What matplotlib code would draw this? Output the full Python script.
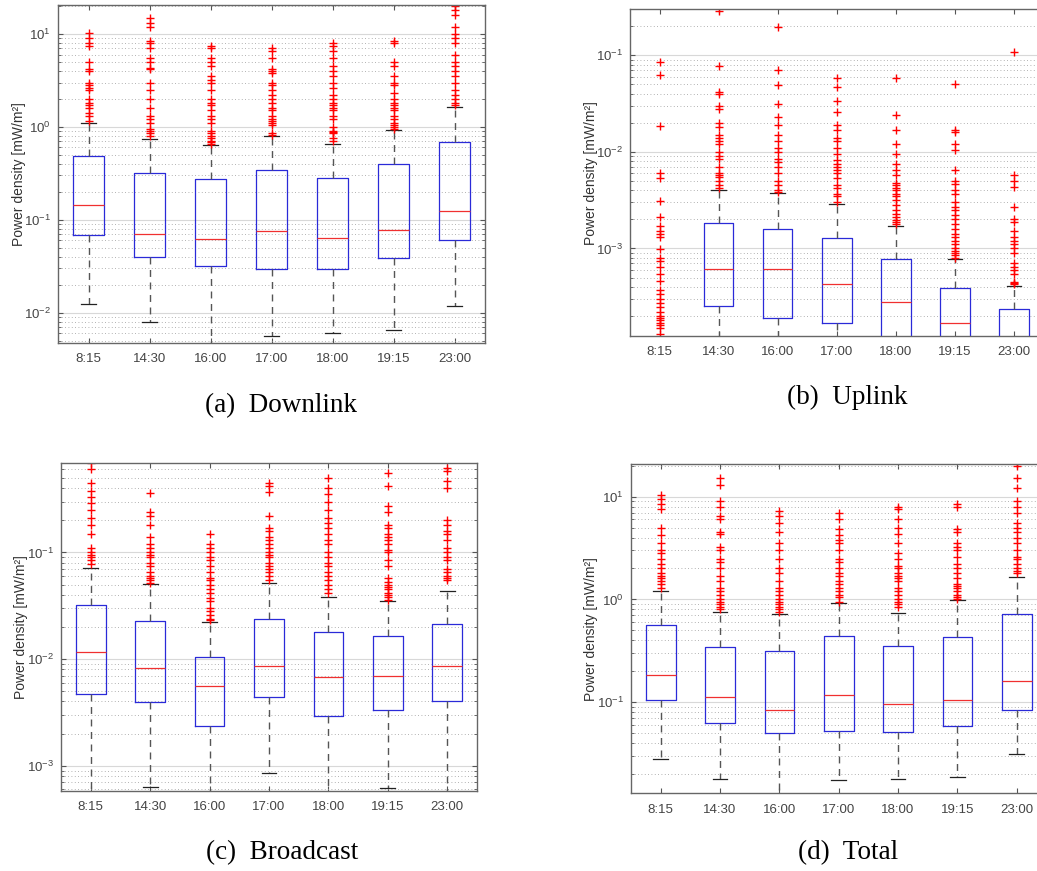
import matplotlib
matplotlib.use("Agg")
import matplotlib.pyplot as plt
from matplotlib.ticker import LogLocator, NullFormatter

plt.rcParams['font.family'] = ['Liberation Sans', 'DejaVu Sans']
plt.rcParams['mathtext.default'] = 'regular'

times = ['8:15', '14:30', '16:00', '17:00', '18:00', '19:15', '23:00']

# --- (a) Downlink ---
dl_q1 = [0.0689, 0.0395, 0.0316, 0.0291, 0.0296, 0.0385, 0.0598]
dl_med = [0.145, 0.0706, 0.0614, 0.0748, 0.0630, 0.0773, 0.124]
dl_q3 = [0.486, 0.319, 0.275, 0.343, 0.284, 0.399, 0.689]
dl_lo = [0.0124, 0.00792, 0.0040, 0.00565, 0.00598, 0.00656, 0.0118]
dl_hi = [1.10, 0.736, 0.644, 0.80, 0.66, 0.929, 1.62]
dl_out = [
    [10.2, 9, 8, 7.5, 5, 4.2, 4, 3, 2.8, 2.6, 2.5, 2, 1.8, 1.7, 1.6, 1.4, 1.3, 1.15],
    [15, 13, 12, 8.5, 8, 7, 5.5, 5, 4.3, 4.2, 3, 2.5, 2, 1.6, 1.3, 1.2, 1.1, 0.95, 0.9, 0.85, 0.8],
    [7.5, 7, 5.5, 5, 4.5, 3.5, 3.2, 3, 2.5, 2, 1.8, 1.7, 1.5, 1.3, 1.2, 1.1, 0.9, 0.85, 0.8, 0.75, 0.7, 0.68, 0.66],
    [7, 6.5, 5.5, 4.2, 4, 3.8, 3, 2.8, 2.5, 2.2, 2, 1.8, 1.6, 1.5, 1.3, 1.2, 1.15, 1.1, 1.05, 0.85, 0.82],
    [8, 7.5, 6.5, 5.5, 4.5, 4, 3.5, 3, 2.6, 2.2, 2, 1.8, 1.7, 1.6, 1.5, 1.3, 1.2, 1, 0.9, 0.88, 0.85, 0.75, 0.7],
    [8.5, 8, 5, 4.5, 3.5, 3, 2.8, 2.3, 2, 1.8, 1.7, 1.6, 1.5, 1.3, 1.2, 1.1, 1.05, 1, 0.95],
    [20, 18, 16, 12, 10, 9, 8, 6, 5, 4.5, 4, 3.5, 3, 2.5, 2.2, 2, 1.8, 1.7],
]

# --- (b) Uplink ---
ul_q1 = [5e-5, 0.000251, 0.00019, 0.000171, 9e-5, 7e-5, 6e-5]
ul_med = [7e-5, 0.00061, 0.00061, 0.00043, 0.00028, 0.000168, 0.00011]
ul_q3 = [1e-4, 0.00183, 0.0016, 0.00127, 0.000787, 0.00039, 0.000237]
ul_lo = [2e-5, 5e-5, 4e-5, 4e-5, 3e-5, 2e-5, 2e-5]
ul_hi = [0.000115, 0.00399, 0.00374, 0.0029, 0.00169, 0.00078, 0.000404]
ul_out = [
    [0.086, 0.062, 0.0187, 0.006, 0.0054, 0.0031, 0.0021, 0.0017, 0.0015, 0.0014, 0.0013, 0.00098,
     0.00079, 0.00075, 0.00065, 0.00054, 0.00046, 0.00037, 0.00034, 0.0003, 0.00027, 0.00025,
     0.00022, 0.0002, 0.00019, 0.00018, 0.00017, 0.00016, 0.00015, 0.00013],
    [0.29, 0.077, 0.042, 0.04, 0.03, 0.028, 0.02, 0.018, 0.015, 0.014, 0.013, 0.012, 0.01, 0.009,
     0.0085, 0.007, 0.006, 0.0058, 0.0055, 0.005, 0.0045, 0.0042],
    [0.197, 0.07, 0.049, 0.031, 0.023, 0.019, 0.015, 0.013, 0.011, 0.01, 0.0085, 0.0078, 0.007,
     0.006, 0.005, 0.0045, 0.004, 0.0038],
    [0.058, 0.047, 0.034, 0.026, 0.019, 0.017, 0.014, 0.013, 0.011, 0.0095, 0.0082, 0.0075, 0.007,
     0.0065, 0.006, 0.0054, 0.0045, 0.0042, 0.0037, 0.0035, 0.003],
    [0.058, 0.024, 0.017, 0.012, 0.0095, 0.0075, 0.0065, 0.0058, 0.0048, 0.0045, 0.0042, 0.004,
     0.0037, 0.0035, 0.0032, 0.0028, 0.0025, 0.0023, 0.0021, 0.00195, 0.0019, 0.0018],
    [0.05, 0.017, 0.016, 0.012, 0.0105, 0.0065, 0.005, 0.0046, 0.004, 0.0037, 0.003, 0.0027, 0.0025,
     0.0022, 0.002, 0.0018, 0.0016, 0.0014, 0.0013, 0.0012, 0.0011, 0.001, 0.00095, 0.0009,
     0.00085, 0.0008],
    [0.108, 0.0058, 0.005, 0.0043, 0.0027, 0.002, 0.0019, 0.0015, 0.0013, 0.0012, 0.0011, 0.001,
     0.0009, 0.0007, 0.00065, 0.0006, 0.00055, 0.00045, 0.00044, 0.00043],
]

# --- (c) Broadcast ---
bc_q1 = [0.0047, 0.00398, 0.00236, 0.00438, 0.00292, 0.00332, 0.00401]
bc_med = [0.01155, 0.00818, 0.00558, 0.0086, 0.00683, 0.00698, 0.00866]
bc_q3 = [0.0321, 0.0227, 0.0105, 0.0237, 0.0178, 0.0164, 0.0211]
bc_lo = [0.0004, 0.000626, 0.0004, 0.00086, 0.0004, 0.000613, 0.0004]
bc_hi = [0.0713, 0.0505, 0.0225, 0.0516, 0.0379, 0.035, 0.0437]
bc_out = [
    [0.69, 0.6, 0.45, 0.38, 0.33, 0.29, 0.25, 0.21, 0.18, 0.15, 0.11, 0.1, 0.095, 0.09, 0.085, 0.078],
    [0.36, 0.24, 0.22, 0.18, 0.14, 0.12, 0.11, 0.1, 0.095, 0.09, 0.08, 0.075, 0.065, 0.06, 0.058,
     0.055, 0.052],
    [0.15, 0.12, 0.11, 0.1, 0.09, 0.085, 0.075, 0.065, 0.058, 0.055, 0.05, 0.045, 0.042, 0.037,
     0.035, 0.03, 0.028, 0.026, 0.024, 0.023],
    [0.45, 0.42, 0.37, 0.22, 0.17, 0.16, 0.14, 0.13, 0.12, 0.11, 0.1, 0.095, 0.09, 0.08, 0.075,
     0.07, 0.065, 0.06, 0.055],
    [0.5, 0.4, 0.35, 0.3, 0.25, 0.21, 0.19, 0.17, 0.15, 0.13, 0.12, 0.1, 0.09, 0.08, 0.075, 0.065,
     0.06, 0.055, 0.05, 0.045, 0.042],
    [0.56, 0.42, 0.27, 0.24, 0.18, 0.17, 0.15, 0.14, 0.13, 0.12, 0.105, 0.1, 0.085, 0.075, 0.057,
     0.053, 0.05, 0.047, 0.045, 0.042, 0.04, 0.038, 0.036],
    [0.62, 0.58, 0.47, 0.4, 0.2, 0.18, 0.16, 0.15, 0.13, 0.11, 0.1, 0.09, 0.085, 0.07, 0.065, 0.06,
     0.058, 0.055],
]

# --- (d) Total ---
tt_q1 = [0.1054, 0.0625, 0.05, 0.0526, 0.0518, 0.0593, 0.084]
tt_med = [0.183, 0.112, 0.084, 0.118, 0.0964, 0.1045, 0.1626]
tt_q3 = [0.565, 0.3475, 0.313, 0.438, 0.356, 0.432, 0.723]
tt_lo = [0.0279, 0.0181, 0.01, 0.0176, 0.0178, 0.0189, 0.0312]
tt_hi = [1.22, 0.75, 0.72, 0.918, 0.734, 0.99, 1.66]
tt_out = [
    [10.3, 9.5, 8.5, 7.5, 5, 4.2, 3.5, 3, 2.8, 2.5, 2.2, 2, 1.8, 1.7, 1.6, 1.5, 1.4, 1.3],
    [15, 13, 9, 8, 6.5, 6, 4.5, 4.3, 3.2, 3, 2.5, 2.3, 2, 1.7, 1.5, 1.3, 1.2, 1.1, 1, 0.95, 0.9,
     0.85, 0.8],
    [7.2, 6.5, 5.5, 4.5, 3.5, 3, 2.5, 2, 1.8, 1.5, 1.3, 1.2, 1.1, 1, 0.95, 0.9, 0.85, 0.8, 0.75],
    [7, 6, 4.8, 4.2, 3.8, 3.5, 3, 2.5, 2.3, 2, 1.8, 1.7, 1.5, 1.4, 1.3, 1.2, 1.1, 1.05, 0.95],
    [8, 7.5, 6, 5, 4.3, 3.5, 2.8, 2.5, 2.1, 2, 1.8, 1.7, 1.6, 1.5, 1.3, 1.2, 1.1, 1, 0.95, 0.9, 0.85],
    [8.5, 8, 4.8, 4.5, 3.5, 3.2, 3, 2.6, 2.2, 2, 1.8, 1.6, 1.4, 1.35, 1.3, 1.2, 1.1, 1.05, 1.0],
    [21, 20, 15, 12, 9, 8, 7, 5.5, 5, 4.5, 4, 3.5, 3, 2.6, 2.5, 2.2, 2, 1.9, 1.8],
]

captions = ['(a)  Downlink', '(b)  Uplink', '(c)  Broadcast', '(d)  Total']

W, H = 1037, 871
fig = plt.figure(figsize=(W / 100, H / 100), dpi=100)


def px_axes(left, top, right, bottom):
    return fig.add_axes([left / W, (H - bottom) / H, (right - left) / W, (bottom - top) / H])


def draw_panel(ax, q1, med, q3, lo, hi, out, ylim, label_off):
    stats = []
    for i in range(len(times)):
        stats.append(dict(q1=q1[i], med=med[i], q3=q3[i], whislo=lo[i], whishi=hi[i],
                          fliers=out[i], label=times[i]))
    ax.bxp(stats, positions=range(1, len(times) + 1), widths=0.5, capwidths=0.25,
           boxprops=dict(color='#2a2ad8', linewidth=0.9),
           medianprops=dict(color='#f03030', linewidth=0.9),
           whiskerprops=dict(color='#555555', linewidth=1.0, linestyle=(0, (5, 4))),
           capprops=dict(color='#222222', linewidth=0.9),
           flierprops=dict(marker='+', markeredgecolor='red', markersize=6, markeredgewidth=1.0,
                           linestyle='none'))
    ax.set_yscale('log')
    ax.set_xlim(0.5, len(times) + 0.5)
    ax.set_ylim(*ylim)
    ax.yaxis.set_major_locator(LogLocator(base=10))
    ax.yaxis.set_minor_locator(LogLocator(base=10, subs=range(2, 10)))
    ax.yaxis.set_minor_formatter(NullFormatter())
    ax.grid(True, which='major', axis='y', color='#d8d8d8', linewidth=0.8, linestyle='-')
    ax.grid(True, which='minor', axis='y', color='#999999', linewidth=0.6, linestyle=(0, (1, 3)))
    ax.set_axisbelow(True)
    for s in ax.spines.values():
        s.set_color('#666666')
        s.set_linewidth(1.0)
    ax.tick_params(which='both', direction='in', top=True, right=True, colors='#555555',
                   labelcolor='#444444', labelsize=9.5)
    ax.tick_params(which='major', length=3.5)
    ax.tick_params(which='minor', length=2)
    ax.tick_params(axis='x', pad=7.5)
    ax.tick_params(axis='y', pad=5)
    ax.set_xticks(range(1, len(times) + 1))
    ax.set_xticklabels(times)
    ax.set_ylabel('Power density [mW/m²]', fontsize=10, color='#333333')
    ax.yaxis.set_label_coords(label_off, 0.5)


ax_a = px_axes(58, 5, 485, 343)
draw_panel(ax_a, dl_q1, dl_med, dl_q3, dl_lo, dl_hi, dl_out, (0.0047, 20.5), -0.076)

ax_b = px_axes(630, 9.3, 1043.5, 336)
draw_panel(ax_b, ul_q1, ul_med, ul_q3, ul_lo, ul_hi, ul_out, (0.000124, 0.30), -0.077)

ax_c = px_axes(61, 462.7, 477, 791)
draw_panel(ax_c, bc_q1, bc_med, bc_q3, bc_lo, bc_hi, bc_out, (0.000579, 0.694), -0.079)

ax_d = px_axes(631, 464.3, 1046.4, 793.3)
draw_panel(ax_d, tt_q1, tt_med, tt_q3, tt_lo, tt_hi, tt_out, (0.01303, 20.6), -0.079)

cap_pos = [(281, 406), (847, 397), (282, 853), (848, 853)]
for txt, (cx, cy) in zip(captions, cap_pos):
    fig.text(cx / W, 1 - cy / H, txt, ha='center', va='center', fontsize=19.5,
             family=['Liberation Serif', 'DejaVu Serif'])

fig.savefig('out.png', dpi=100)
